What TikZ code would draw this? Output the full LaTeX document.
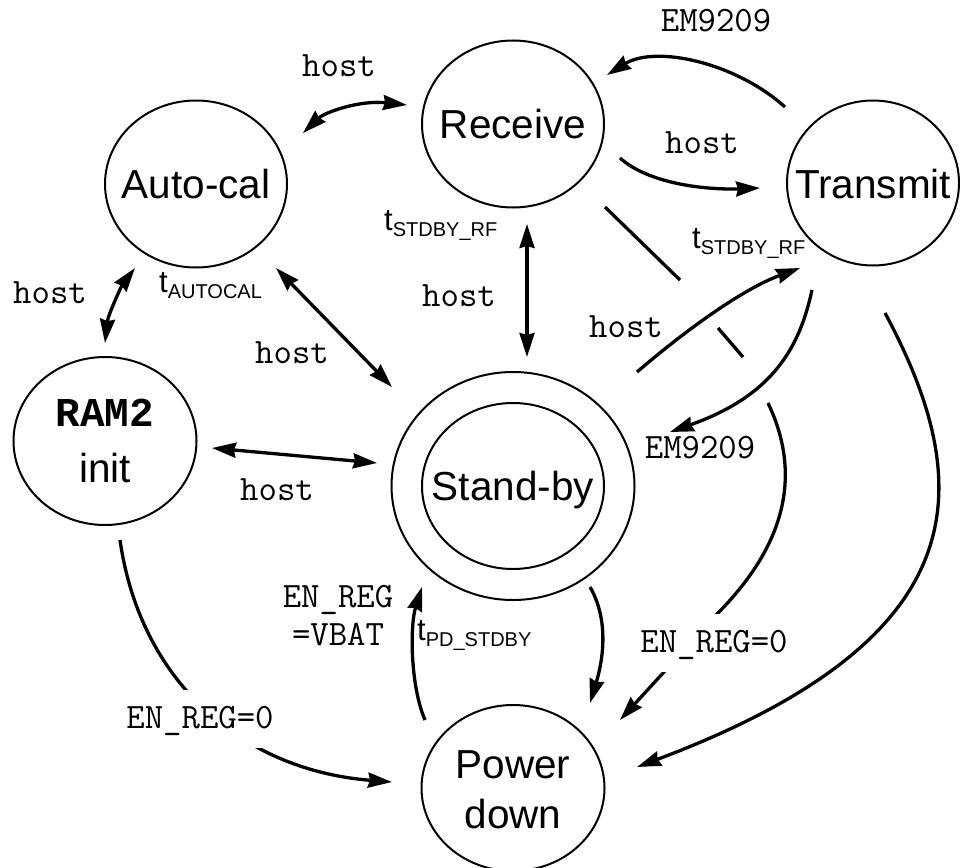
\documentclass[tikz,border=0pt]{standalone}
\usepackage{fontspec}
\setmainfont{Liberation Sans}
\newfontfamily\boldmono{Liberation Mono}
\usetikzlibrary{shapes.geometric,arrows.meta}

% timing symbol: t with a lowered index
\newcommand\tmark[1]{{\fontsize{31}{31}\selectfont t}\raisebox{-6pt}{\fontsize{20}{20}\selectfont #1}}

\tikzset{
  >={Stealth[length=24pt,width=15pt,inset=2pt]},
  stnode/.style={ellipse, draw, line width=2pt, inner sep=0pt,
                 minimum width=182pt, minimum height=167pt},
  sttext/.style={anchor=base, inner sep=0pt, align=center,
                 font=\fontsize{40.5}{50}\selectfont},
  condlbl/.style={anchor=base, inner sep=0pt, align=center,
                  font=\ttfamily\fontsize{35.7}{38}\selectfont},
  gaplbl/.style={anchor=base, fill=white, inner xsep=2pt, inner ysep=0pt,
                 text height=38pt, text depth=20pt,
                 font=\ttfamily\fontsize{35.7}{38}\selectfont},
  tlbl/.style={anchor=base west, inner sep=0pt},
  trans/.style={line width=3.3pt},
}

\begin{document}
\begin{tikzpicture}[x=1pt,y=-1pt]
\useasboundingbox (0,0) rectangle (960,867);

% ---- states ----
\node[stnode] (rx) at (513,124) {};
\node[stnode, minimum width=172pt, minimum height=165pt] (tx) at (873,183) {};
\node[stnode] (ac) at (196,184) {};
\node[stnode, minimum width=183pt, minimum height=168pt] (ram) at (105,441) {};
\node[stnode, minimum width=243pt, minimum height=228pt] (sbo) at (513,486) {};
\node[stnode, minimum height=166pt] (sb) at (513,486) {};
\node[stnode, minimum width=183pt, minimum height=166pt] (pd) at (513,788) {};

% state names (multi-line nodes sit on the baseline of their last line)
\node[sttext] (rxT) at (513,138.5) {Receive};
\node[sttext] (txT) at (873,198) {Transmit};
\node[sttext] (acT) at (196,198) {Auto-cal};
\node[sttext] (sbT) at (513,500) {Stand-by};
\node[sttext] (pdT) at (513,828) {Power\\down};
\node[anchor=base, inner sep=0pt, font=\boldmono\bfseries\fontsize{41}{41}\selectfont] (ramA) at (105,426) {RAM2};
\node[sttext] (ramB) at (105,482) {init};

% ---- transitions ----
% Auto-cal <-> Receive
\draw[trans, <->] ([shift={(107,-51)}]ac.center) .. controls +(22,-21) and +(-47,-5) .. ([shift={(-106,-19)}]rx.center);
% Transmit -> Receive
\draw[trans, ->] ([shift={(-88,-76)}]tx.center) .. controls +(-50,-45) and +(48,-30) .. ([shift={(94,-49)}]rx.center);
% Receive -> Transmit
\draw[trans, ->] ([shift={(107,34)}]rx.center) .. controls +(30,27) and +(-50,2) .. ([shift={(-113,5)}]tx.center);
% Receive <-> Stand-by
\draw[trans, <->] ([shift={(14,100)}]rx.center) -- ([shift={(14,-129)}]sb.center);
% Auto-cal <-> Stand-by
\draw[trans, <->] ([shift={(80,84)}]ac.center) -- ([shift={(-121,-99)}]sb.center);
% RAM2 init <-> Auto-cal
\draw[trans, <->] ([shift={(0,-98)}]ram.center) .. controls +(3,-28) and +(-13,17) .. ([shift={(-61,84)}]ac.center);
% RAM2 init <-> Stand-by
\draw[trans, <->] ([shift={(107,7)}]ram.center) -- ([shift={(-136,-23)}]sb.center);
% Transmit -> Stand-by
\draw[trans, ->] ([shift={(-61,107)}]tx.center) .. controls +(-12,55) and +(105,-37) .. ([shift={(157,-54)}]sb.center);
% Stand-by -> Transmit
\draw[trans, ->] ([shift={(124,-114)}]sb.center) .. controls +(43,-37) and +(-60,22) .. ([shift={(-73,85)}]tx.center);
% Transmit -> Power down
\draw[trans, ->] ([shift={(12,130)}]tx.center) .. controls +(95,177) and +(338,-127) .. ([shift={(124,-21)}]pd.center);
% Stand-by -> Power down
\draw[trans, ->] ([shift={(77,101)}]sb.center) .. controls +(22,38) and +(10,-33) .. ([shift={(77,-85)}]pd.center);
% Power down -> Stand-by
\draw[trans, ->] ([shift={(-88,-68)}]pd.center) .. controls +(-15,-35) and +(-12,38) .. ([shift={(-91,101)}]sb.center);
% RAM2 init -> Power down
\draw[trans, ->] ([shift={(15,99)}]ram.center) .. controls +(20,140) and +(-152,-12) .. ([shift={(-121,-6)}]pd.center);
% Receive -> Power down, broken where it passes under two transitions
\coordinate (hopA) at (680,280);
\coordinate (hopB) at (718,328);
\coordinate (hopB2) at (743,357);
\coordinate (hopC) at (768,403);
\coordinate (hopD) at (718,613);
\draw[trans] ([shift={(92,83)}]rx.center) -- (hopA);
\draw[trans] (hopB) -- (hopB2);
\draw[trans, ->] (hopC) .. controls +(32,67) and +(72,-73) .. (hopD) -- ([shift={(107,-68)}]pd.center);

% ---- conditions ----
\node[condlbl] (c1) at (339,77) {host};
\node[condlbl] (c2) at (716,32) {EM9209};
\node[condlbl] (c3) at (702,153) {host};
\node[condlbl] (c4) at (50,303) {host};
\node[condlbl] (c5) at (292,363) {host};
\node[condlbl] (c6) at (277,500) {host};
\node[condlbl] (c7) at (459,306) {host};
\node[condlbl] (c8) at (626,337) {host};
\node[condlbl] (c9) at (700,458) {EM9209};
\node[condlbl] (c10) at (338,645) {EN\_REG\\=VBAT};
\node[gaplbl] (c11) at (714,652) {EN\_REG=0};
\node[gaplbl] (c12) at (200,728) {EN\_REG=0};

% ---- timings ----
\node[tlbl] (t1) at (384,230) {\tmark{STDBY\_RF}};
\node[tlbl] (t2) at (692,248) {\tmark{STDBY\_RF}};
\node[tlbl] (t3) at (159,292) {\tmark{AUTOCAL}};
\node[tlbl] (t4) at (417,640) {\tmark{PD\_STDBY}};
\end{tikzpicture}
\end{document}
